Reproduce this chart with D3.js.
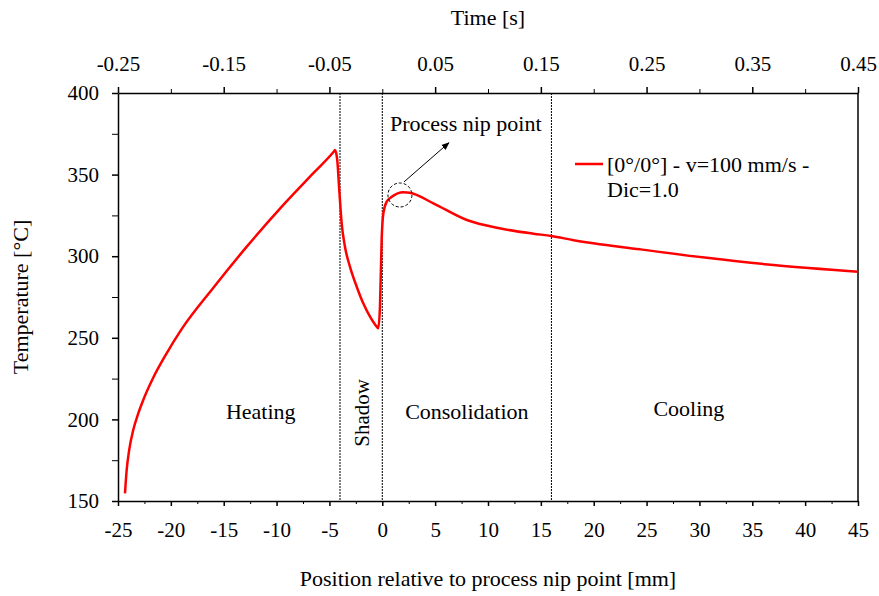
<!DOCTYPE html>
<html>
<head>
<meta charset="utf-8">
<script src="https://cdn.jsdelivr.net/npm/d3@7"></script>
<style>
    body { margin: 0; background: #fff; }
    text { font-family: "Liberation Serif", "Times New Roman", serif; fill: #000; }
</style>
</head>
<body>
<svg width="879" height="596"></svg>
<script>
// temperature profile
var positionMm = [-24.34, -24.18, -23.94, -23.56, -23.08, -22.61, -21.67, -20.4, -18.98, -16, -12.8, -9.7, -6.5,
    -4.62, -4.47, -4.26, -4.07, -3.84, -3.53, -3.06, -2.42, -1.8, -1.16, -0.53, -0.38, -0.22, -0.06, 0.1, 0.42,
    0.9, 2.0, 2.6, 4.83, 8, 11.1, 14.3, 16, 18.1, 24.4, 30.7, 37, 45];
var temperatureC = [154.7, 169, 181.3, 193.5, 203.7, 211.9, 225.5, 240.5, 255.3, 280.5, 306, 329, 351,
    363.8, 365, 358.9, 340.6, 320, 305.8, 293.6, 281.3, 271.1, 262.9, 256.8, 255.8, 269, 310, 326.3, 333.4,
    336.4, 339.2, 338.9, 332.4, 322.2, 317.1, 313.8, 312.4, 309.8, 304.2, 299, 294.6, 290.5];

var xTicks = [-25, -20, -15, -10, -5, 0, 5, 10, 15, 20, 25, 30, 35, 40, 45];
var timeTicks = [-0.25, -0.15, -0.05, 0.05, 0.15, 0.25, 0.35, 0.45];
var yTicks = [150, 200, 250, 300, 350, 400];
var zoneBounds = [-4, 0, 16];
var zoneLabels = [
    {name: 'Heating', x: -11.5, y: 200},
    {name: 'Consolidation', x: 8, y: 200},
    {name: 'Cooling', x: 29, y: 202}
];
var seriesName = ['[0°/0°] - v=100 mm/s -', 'Dic=1.0'];

var svg = d3.select('svg');
var padding = {t: 93, r: 21, b: 95, l: 118};
var width = 879 - padding.l - padding.r;
var height = 596 - padding.t - padding.b;

var xScale = d3.scaleLinear().domain([-25, 45]).range([0, width]);
var tScale = d3.scaleLinear().domain([-0.25, 0.45]).range([0, width]);
var yScale = d3.scaleLinear().domain([150, 400]).range([height, 0]);

var chartG = svg.append('g')
    .attr('transform', 'translate(' + [padding.l, padding.t] + ')');

// minor ticks first, no labels
chartG.append('g')
    .attr('transform', 'translate(' + [0, height] + ')')
    .call(d3.axisBottom(xScale).tickValues(d3.range(-22.5, 45, 5)).tickSize(3).tickFormat(''))
    .call(function(g) { g.select('.domain').remove(); });
chartG.append('g')
    .call(d3.axisTop(tScale).tickValues(d3.range(-0.2, 0.45, 0.1)).tickSize(4).tickFormat(''))
    .call(function(g) { g.select('.domain').remove(); });
chartG.append('g')
    .call(d3.axisLeft(yScale).tickValues(d3.range(175, 400, 50)).tickSize(6).tickFormat(''))
    .call(function(g) { g.select('.domain').remove(); });

var xAxis = chartG.append('g')
    .attr('class', 'x axis')
    .attr('transform', 'translate(' + [0, height] + ')')
    .call(d3.axisBottom(xScale).tickValues(xTicks).tickSize(5).tickPadding(16).tickSizeOuter(0));
var tAxis = chartG.append('g')
    .attr('class', 't axis')
    .call(d3.axisTop(tScale).tickValues(timeTicks).tickSize(6).tickPadding(16).tickSizeOuter(0)
        .tickFormat(function(d) { return d3.format('.2f')(d).replace('−', '-'); }));
var yAxis = chartG.append('g')
    .attr('class', 'y axis')
    .call(d3.axisLeft(yScale).tickValues(yTicks).tickSize(6).tickPadding(13).tickSizeOuter(0));
xAxis.selectAll('text').text(function(d) { return String(d); });

chartG.selectAll('.axis text').style('font-size', '21px').style('font-family', '"Liberation Serif", serif');
chartG.selectAll('.axis .domain, .axis line').attr('stroke-width', 1.5);
chartG.selectAll('g line').attr('stroke', '#000');

// right frame
chartG.append('line')
    .attr('x1', width).attr('x2', width)
    .attr('y1', 0).attr('y2', height)
    .attr('stroke', '#000')
    .attr('stroke-width', 1.5);

// zone separators
chartG.selectAll('.zone')
    .data(zoneBounds)
    .enter()
    .append('line')
    .attr('class', 'zone')
    .attr('x1', function(d) { return xScale(d); })
    .attr('x2', function(d) { return xScale(d); })
    .attr('y1', 0).attr('y2', height)
    .attr('stroke', '#000')
    .attr('stroke-width', 1)
    .attr('stroke-dasharray', '2,1');

chartG.selectAll('.zoneLabel')
    .data(zoneLabels)
    .enter()
    .append('text')
    .attr('class', 'zoneLabel')
    .attr('x', function(d) { return xScale(d.x); })
    .attr('y', function(d) { return yScale(d.y); })
    .attr('text-anchor', 'middle')
    .style('font-size', '22px')
    .text(function(d) { return d.name; });

chartG.append('text')
    .attr('transform', 'translate(' + [xScale(-2), yScale(204)] + ') rotate(-90)')
    .attr('text-anchor', 'middle')
    .attr('dy', '0.35em')
    .style('font-size', '21px')
    .text('Shadow');

// temperature curve
var line = d3.line()
    .x(function(d, i) { return xScale(positionMm[i]); })
    .y(function(d, i) { return yScale(temperatureC[i]); })
    .curve(d3.curveMonotoneX);

chartG.append('path')
    .datum(positionMm)
    .attr('d', line)
    .attr('fill', 'none')
    .attr('stroke', '#ff0000')
    .attr('stroke-width', 2.5)
    .attr('stroke-linejoin', 'round');

// nip point marker
chartG.append('circle')
    .attr('cx', xScale(1.67))
    .attr('cy', yScale(337.5))
    .attr('r', 12)
    .attr('fill', 'none')
    .attr('stroke', '#000')
    .attr('stroke-width', 1)
    .attr('stroke-dasharray', '3,2');

svg.append('defs').append('marker')
    .attr('id', 'arrow')
    .attr('viewBox', '0 0 10 10')
    .attr('refX', 9).attr('refY', 5)
    .attr('markerWidth', 8).attr('markerHeight', 8)
    .attr('orient', 'auto')
    .append('path')
    .attr('d', 'M0,1L10,5L0,9Z')
    .attr('fill', '#000');

chartG.append('line')
    .attr('x1', xScale(2.05)).attr('y1', yScale(345.5))
    .attr('x2', xScale(6.3)).attr('y2', yScale(369.5))
    .attr('stroke', '#000')
    .attr('stroke-width', 1)
    .attr('marker-end', 'url(#arrow)');

chartG.append('text')
    .attr('x', xScale(7.9))
    .attr('y', yScale(377))
    .attr('text-anchor', 'middle')
    .style('font-size', '22px')
    .text('Process nip point');

// legend
var legendG = chartG.append('g')
    .attr('transform', 'translate(' + [457, 71] + ')');
legendG.append('line')
    .attr('x1', 0).attr('x2', 28)
    .attr('y1', 0).attr('y2', 0)
    .attr('stroke', '#ff0000')
    .attr('stroke-width', 2.5);
legendG.selectAll('.legText')
    .data(seriesName)
    .enter()
    .append('text')
    .attr('class', 'legText')
    .attr('x', 32)
    .attr('y', function(d, i) { return 8 + i * 25; })
    .style('font-size', '22px')
    .text(function(d) { return d; });

// axis titles
svg.append('text')
    .attr('x', padding.l + width / 2)
    .attr('y', 586)
    .attr('text-anchor', 'middle')
    .style('font-size', '22px')
    .text('Position relative to process nip point [mm]');
svg.append('text')
    .attr('x', padding.l + width / 2)
    .attr('y', 25)
    .attr('text-anchor', 'middle')
    .style('font-size', '22px')
    .text('Time [s]');
svg.append('text')
    .attr('transform', 'translate(' + [28, padding.t + height / 2] + ') rotate(-90)')
    .attr('text-anchor', 'middle')
    .style('font-size', '22px')
    .text('Temperature [°C]');
</script>
</body>
</html>
